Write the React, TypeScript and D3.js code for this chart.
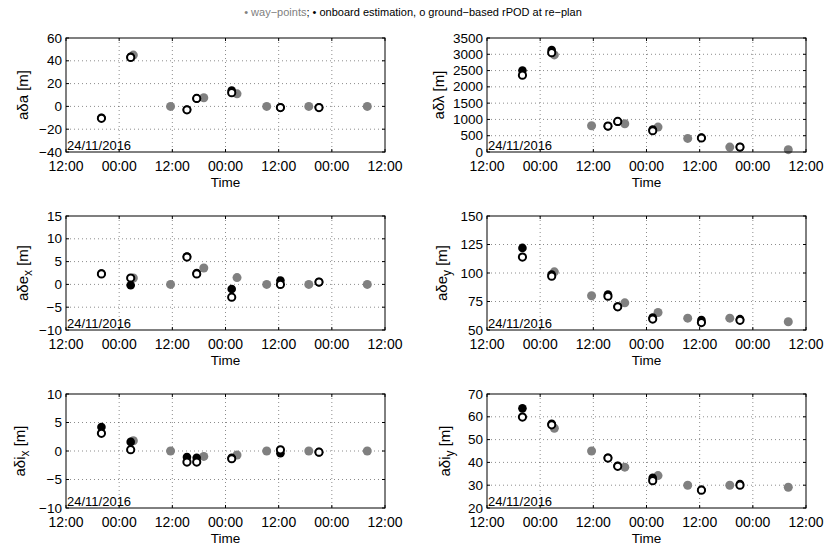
import * as d3 from "d3";

// hours since 24/11/2016 12:00
const wayTimes = [15.2, 23.6, 31.1, 38.6, 45.3, 54.8, 68.0];
const estTimes = [8.0, 14.6, 27.3, 29.5, 37.4, 48.4, 57.1];
const xTickHours = [0, 12, 24, 36, 48, 60, 72];
const xTickLabels = ["12:00", "00:00", "12:00", "00:00", "12:00", "00:00", "12:00"];

const aDa_way = [45, 0, 7.6, 11, 0, 0, 0];
const aDa_onboard = [-10, 43.5, -3, 7, 14, -1, -1];
const aDa_ground = [-10.5, 43, -3, 7, 12, -1, -1];

const aDl_way = [2980, 806, 867, 765, 418, 150, 71];
const aDl_onboard = [2500, 3130, 790, 930, 690, 440, 150];
const aDl_ground = [2360, 3050, 796, 939, 653, 430, 150];

const aDex_way = [1.4, 0, 3.6, 1.5, 0, 0, 0];
const aDex_onboard = [2.4, -0.2, 6.1, 2.5, -1.0, 0.85, 0.5];
const aDex_ground = [2.3, 1.4, 6.0, 2.3, -2.8, 0, 0.5];

const aDey_way = [101, 80, 73.8, 65.4, 60.4, 60.4, 57.2];
const aDey_onboard = [122, 98.7, 81, 70.5, 61, 58.7, 59.5];
const aDey_ground = [114, 97.2, 79.6, 70.3, 59.6, 56.5, 58.5];

const aDix_way = [1.8, 0, -0.95, -0.7, 0, 0, 0];
const aDix_onboard = [4.2, 1.6, -1.07, -1.2, -1.2, -0.4, -0.2];
const aDix_ground = [3.1, 0.24, -1.95, -1.95, -1.36, 0.2, -0.2];

const aDiy_way = [55, 45, 37.9, 34.2, 30, 30, 29.1];
const aDiy_onboard = [63.7, 56.9, 42, 38.5, 33.2, 28, 30.5];
const aDiy_ground = [59.9, 56.5, 41.9, 38.3, 32, 27.8, 30];

const panels = [
  { base: "aδa", sub: "", domain: [-40, 60], step: 20, way: aDa_way, onboard: aDa_onboard, ground: aDa_ground, labelX: 28 },
  { base: "aδλ", sub: "", domain: [0, 3500], step: 500, way: aDl_way, onboard: aDl_onboard, ground: aDl_ground, labelX: 444 },
  { base: "aδe", sub: "x", domain: [-10, 15], step: 5, way: aDex_way, onboard: aDex_onboard, ground: aDex_ground, labelX: 28 },
  { base: "aδe", sub: "y", domain: [50, 150], step: 25, way: aDey_way, onboard: aDey_onboard, ground: aDey_ground, labelX: 447 },
  { base: "aδi", sub: "x", domain: [-10, 10], step: 5, way: aDix_way, onboard: aDix_onboard, ground: aDix_ground, labelX: 25 },
  { base: "aδi", sub: "y", domain: [20, 70], step: 10, way: aDiy_way, onboard: aDiy_onboard, ground: aDiy_ground, labelX: 450 },
];

const FONT = "'Liberation Sans', Arial, Helvetica, sans-serif";
const colLeft = [66, 487];
const panelW = 319;
const panelH = 114;
const rowTop = [38, 216, 394];

function Panel({ p, idx }: { p: any; idx: number }) {
  const col = idx % 2;
  const row = Math.floor(idx / 2);
  const x0 = colLeft[col];
  const y0 = rowTop[row];
  const x = d3.scaleLinear().domain([0, 72]).range([x0, x0 + panelW]);
  const y = d3.scaleLinear().domain(p.domain).range([y0 + panelH, y0]);
  const yTicks = d3.range(p.domain[0], p.domain[1] + p.step / 2, p.step);
  const fmt = d3.format("");
  const cy = y0 + panelH / 2;
  return (
    <g>
      {/* grid */}
      {xTickHours.slice(1, -1).map((h) => (
        <line key={"gx" + h} x1={x(h)} x2={x(h)} y1={y0} y2={y0 + panelH}
          stroke="#000" strokeOpacity={0.45} strokeDasharray="1 3" />
      ))}
      {yTicks.slice(1, -1).map((t) => (
        <line key={"gy" + t} x1={x0} x2={x0 + panelW} y1={y(t)} y2={y(t)}
          stroke="#000" strokeOpacity={0.45} strokeDasharray="1 3" />
      ))}
      {/* ticks */}
      {xTickHours.map((h) => (
        <g key={"tx" + h}>
          <line x1={x(h)} x2={x(h)} y1={y0 + panelH} y2={y0 + panelH - 3} stroke="#000" />
          <line x1={x(h)} x2={x(h)} y1={y0} y2={y0 + 3} stroke="#000" />
        </g>
      ))}
      {yTicks.map((t) => (
        <g key={"ty" + t}>
          <line x1={x0} x2={x0 + 3} y1={y(t)} y2={y(t)} stroke="#000" />
          <line x1={x0 + panelW} x2={x0 + panelW - 3} y1={y(t)} y2={y(t)} stroke="#000" />
        </g>
      ))}
      {/* markers */}
      {p.way.map((v: number, i: number) => (
        <circle key={"w" + i} cx={x(wayTimes[i])} cy={y(v)} r={4.5} fill="#808080" />
      ))}
      {p.onboard.map((v: number, i: number) => (
        <circle key={"o" + i} cx={x(estTimes[i])} cy={y(v)} r={4.3} fill="#000" />
      ))}
      {p.ground.map((v: number, i: number) => (
        <circle key={"g" + i} cx={x(estTimes[i])} cy={y(v)} r={3.6} fill="#fff" stroke="#000" strokeWidth={2} />
      ))}
      <rect x={x0} y={y0} width={panelW} height={panelH} fill="none" stroke="#000" strokeWidth={1} />
      {/* labels */}
      {yTicks.map((t) => (
        <text key={"ly" + t} x={x0 - 4} y={y(t)} dy="0.34em" textAnchor="end" fontSize={13.5}>
          {fmt(t)}
        </text>
      ))}
      {xTickHours.map((h, i) => (
        <text key={"lx" + h} x={x(h)} y={y0 + panelH + 19} textAnchor="middle" fontSize={14}>
          {xTickLabels[i]}
        </text>
      ))}
      <text x={x0 + 1} y={y0 + panelH - 2} fontSize={13}>24/11/2016</text>
      <text x={x0 + panelW / 2} y={y0 + panelH + 35} textAnchor="middle" fontSize={13.5}>Time</text>
      <text transform={`translate(${p.labelX},${cy}) rotate(-90)`} textAnchor="middle" fontSize={15}>
        {p.base}
        {p.sub ? <tspan dy={4} fontSize={12}>{p.sub}</tspan> : null}
        {p.sub ? <tspan dy={-4}> [m]</tspan> : " [m]"}
      </text>
    </g>
  );
}

export default function App() {
  return (
    <svg width={827} height={548} style={{ position: "absolute", left: 0, top: 0, background: "#fff" }}
      fontFamily={FONT}>
      <rect width={827} height={548} fill="#fff" />
      <text x={413} y={16} textAnchor="middle" fontSize={11}>
        <tspan fill="#808080">• way−points</tspan>
        <tspan fill="#000">; • onboard estimation, o ground−based rPOD at re−plan</tspan>
      </text>
      {panels.map((p, i) => (
        <Panel key={i} p={p} idx={i} />
      ))}
    </svg>
  );
}
